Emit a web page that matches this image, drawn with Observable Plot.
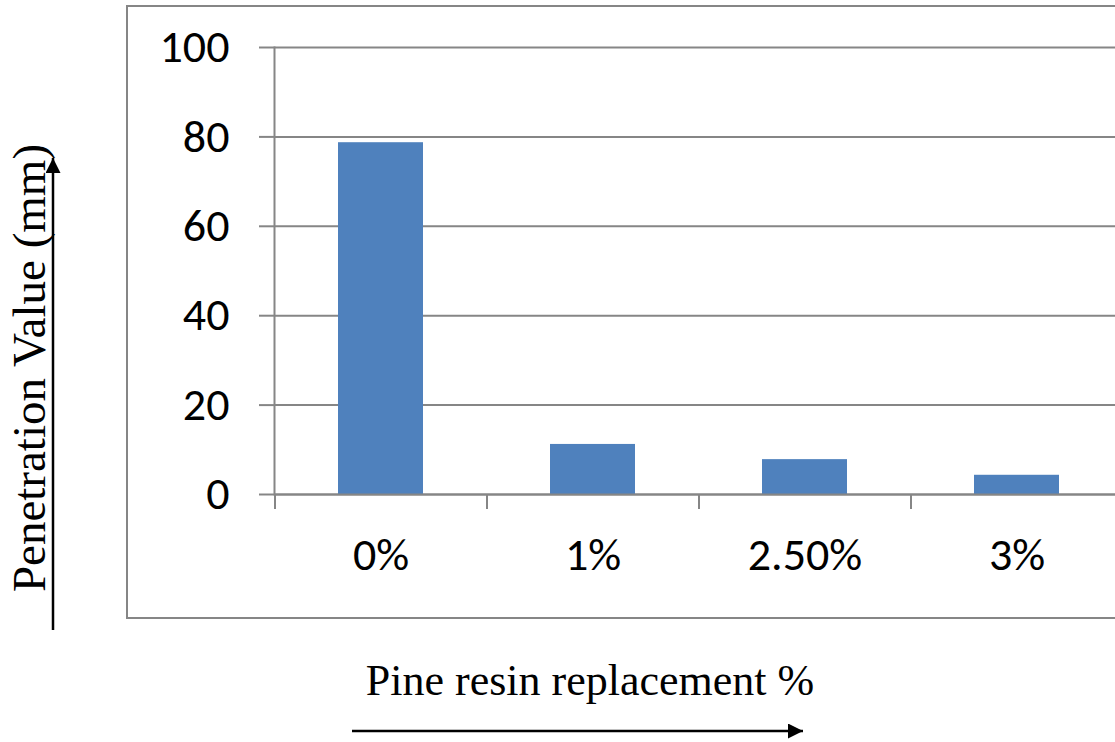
<!DOCTYPE html>
<html>
<head>
<meta charset="utf-8">
<script src="https://cdn.jsdelivr.net/npm/d3@7"></script>
<script src="https://cdn.jsdelivr.net/npm/@observablehq/plot@0.6"></script>
<style>
  html, body { margin: 0; padding: 0; background: #fff; }
  #stage { position: relative; width: 1115px; height: 742px; overflow: hidden; }
  #stage > svg { position: absolute; left: 0; top: 0; }
  #chart svg { overflow: visible; max-width: none !important; }
  #chart { position: absolute; left: 0; top: 0; width: 1140px; }
</style>
</head>
<body>
<div id="stage">
  <svg id="decor" width="1115" height="742">
    <defs>
      <marker id="head" viewBox="0 0 10 10" refX="10" refY="5" markerWidth="19" markerHeight="15" markerUnits="userSpaceOnUse" orient="auto">
        <path d="M0,0 L10,5 L0,10 Z" fill="#000"/>
      </marker>
    </defs>
    <!-- chart area border -->
    <rect x="127" y="6" width="1100" height="612" fill="none" stroke="#868686" stroke-width="2"/>
    <!-- axis titles with direction arrows -->
    <text x="590" y="695" text-anchor="middle" font-family="'Liberation Serif', 'Times New Roman', serif" font-size="44" fill="#000">Pine resin replacement %</text>
    <line x1="352" y1="731" x2="803" y2="731" stroke="#000" stroke-width="2.5" marker-end="url(#head)"/>
    <text transform="translate(45,368) rotate(-90)" text-anchor="middle" font-family="'Liberation Serif', 'Times New Roman', serif" font-size="47" fill="#000">Penetration Value (mm)</text>
    <line x1="53" y1="630" x2="53" y2="158" stroke="#000" stroke-width="2.5" marker-end="url(#head)"/>
  </svg>
  <div id="chart"></div>
</div>
<script>
// Penetration test results by pine resin replacement level
const categories = ["0%", "1%", "2.50%", "3%"];
const penetration = [78.7, 11.2, 7.8, 4.3];
const yTicks = [0, 20, 40, 60, 80, 100];

const rows = categories.map((c, i) => ({category: c, value: penetration[i]}));

const gridColor = "#868686";
const bandStep = 212; // pixel width of one category band

const chart = Plot.plot({
  width: 1140,
  height: 742,
  marginLeft: 274,
  marginRight: 18,
  marginTop: 47,
  marginBottom: 248,
  style: {fontFamily: "Carlito, Calibri, 'Open Sans', sans-serif", color: "#000", background: "transparent", maxWidth: "none"},
  x: {domain: categories, paddingInner: 0.6, paddingOuter: 0.3},
  y: {domain: [0, 100]},
  marks: [
    Plot.gridY(yTicks, {stroke: gridColor, strokeOpacity: 1, strokeWidth: 2}),
    Plot.axisY(yTicks, {tickSize: 15, tickPadding: 30, stroke: gridColor, strokeWidth: 2, fontSize: 46, label: null}),
    Plot.barY(rows, {x: "category", y: "value", fill: "#4F81BD"}),
    Plot.frame({anchor: "left", stroke: gridColor, strokeWidth: 2}),
    Plot.ruleY([0], {stroke: gridColor, strokeWidth: 2}),
    // category separators sit between bands
    Plot.axisX({tickSize: 15, dx: -bandStep / 2, tickFormat: () => "", stroke: gridColor, strokeWidth: 2, label: null}),
    Plot.axisX({tickSize: 0, tickPadding: 43, fontSize: 46, label: null})
  ]
});
document.getElementById("chart").appendChild(chart);
</script>
</body>
</html>
